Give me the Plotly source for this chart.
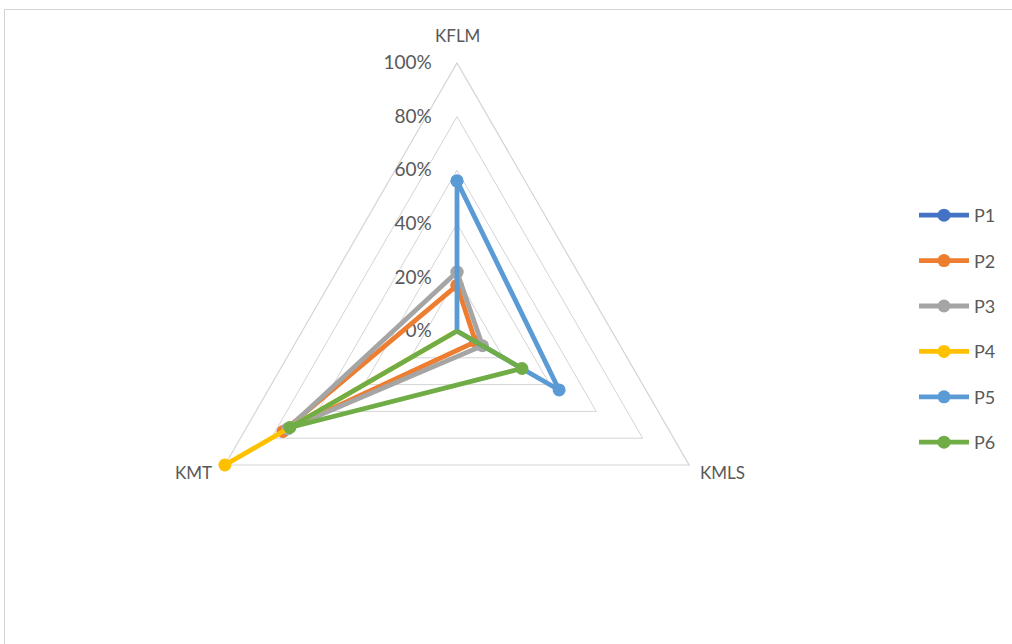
import math
import plotly.graph_objects as go

# Axes of the radar, clockwise from the top
categories = ["KFLM", "KMLS", "KMT"]

# Share per axis for each profile
p1 = [0.00, 0.00, 0.00]
p2 = [0.17, 0.08, 0.75]
p3 = [0.22, 0.11, 0.73]
p4 = [0.00, 0.00, 1.00]
p5 = [0.56, 0.44, 0.00]
p6 = [0.00, 0.28, 0.72]

series_names = ["P1", "P2", "P3", "P4", "P5", "P6"]
series_values = [p1, p2, p3, p4, p5, p6]
series_colors = ["#4472C4", "#ED7D31", "#A5A5A5", "#FFC000", "#5B9BD5", "#70AD47"]

radial_ticks = [0, 0.2, 0.4, 0.6, 0.8, 1.0]

W, H = 1012, 644
FONT = "Lato, 'Open Sans', sans-serif"
GRID = "#D4D4D4"
TEXT = "#595959"

fig = go.Figure()
for name, vals, color in zip(series_names, series_values, series_colors):
    fig.add_trace(go.Scatterpolar(
        r=vals + [vals[0]],
        theta=categories + [categories[0]],
        mode="lines+markers",
        name=name,
        legendgroup=name,
        line=dict(color=color, width=4.8),
        marker=dict(color=color, size=13),
        cliponaxis=False,
    ))

# Polar area: centre (457, 331), outer radius 268 px
cx, cy, R = 457, 331, 268

# Category names placed just outside each vertex of the outer triangle
annotations = []
for i, cat in enumerate(categories):
    ang = math.radians(90 - 120 * i)
    vx = cx + R * math.cos(ang)
    vy = cy - R * math.sin(ang)
    if i == 0:
        ax, ay, xa, ya = vx, vy - 28, "center", "middle"
    elif math.cos(ang) > 0:
        ax, ay, xa, ya = vx + 9, vy + 7, "left", "middle"
    else:
        ax, ay, xa, ya = vx - 11, vy + 7, "right", "middle"
    annotations.append(dict(
        text=cat, x=ax / W, y=1 - ay / H, xref="paper", yref="paper",
        xanchor=xa, yanchor=ya, showarrow=False,
        font=dict(family=FONT, size=17, color=TEXT),
    ))

fig.update_layout(
    width=W, height=H,
    margin=dict(l=0, r=0, t=0, b=0),
    paper_bgcolor="white",
    plot_bgcolor="white",
    font=dict(family=FONT, size=16, color=TEXT),
    polar=dict(
        domain=dict(x=[(cx - R) / W, (cx + R) / W],
                    y=[1 - (cy + R) / H, 1 - (cy - R) / H]),
        bgcolor="white",
        gridshape="linear",
        radialaxis=dict(
            range=[0, 1],
            tickvals=radial_ticks,
            tickformat=".0%",
            angle=90,
            tickangle=90,
            side="counterclockwise",
            showline=False,
            showgrid=True,
            gridcolor=GRID,
            gridwidth=1.2,
            ticks="outside",
            ticklen=18,
            tickcolor="rgba(0,0,0,0)",
            tickfont=dict(family=FONT, size=19, color=TEXT),
            layer="below traces",
        ),
        angularaxis=dict(
            rotation=90,
            direction="clockwise",
            showgrid=False,
            showline=True,
            linecolor=GRID,
            linewidth=1.2,
            showticklabels=False,
            ticks="",
            layer="below traces",
        ),
    ),
    annotations=annotations,
    legend=dict(
        x=914 / W, xanchor="left",
        y=1 - 329 / H, yanchor="middle",
        font=dict(family=FONT, size=18, color=TEXT),
        tracegroupgap=19,
        bgcolor="rgba(0,0,0,0)",
        itemwidth=50,
    ),
    shapes=[
        # chart area frame (top and left edges visible)
        dict(type="line", xref="paper", yref="paper",
             x0=4.5 / W, x1=1.0, y0=1 - 9.5 / H, y1=1 - 9.5 / H,
             line=dict(color=GRID, width=1)),
        dict(type="line", xref="paper", yref="paper",
             x0=4.5 / W, x1=4.5 / W, y0=0, y1=1 - 9.5 / H,
             line=dict(color=GRID, width=1)),
    ],
)

fig.write_html("out.html")
